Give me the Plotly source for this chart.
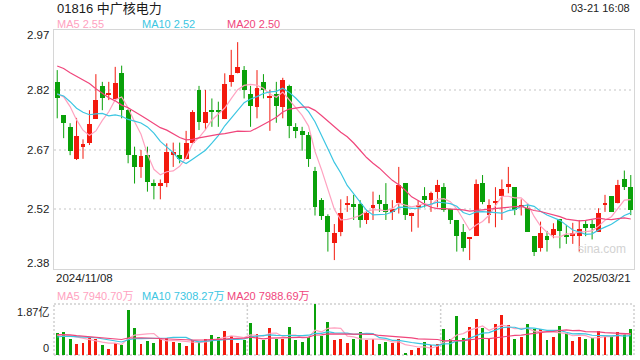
import plotly.graph_objects as go
import pandas as pd

# ---------------- data ----------------
HOLIDAYS = {"2024-12-25", "2024-12-26", "2025-01-01", "2025-01-29", "2025-01-30", "2025-01-31"}
dates = [d.strftime("%Y/%m/%d") for d in pd.bdate_range("2024-11-08", "2025-03-21")
         if d.strftime("%Y-%m-%d") not in HOLIDAYS]

opens = [2.837, 2.755, 2.725, 2.647, 2.677, 2.687, 2.746, 2.827, 2.806, 2.795,
         2.858, 2.767, 2.656, 2.627, 2.656, 2.588, 2.580, 2.588, 2.656, 2.656,
         2.646, 2.687, 2.817, 2.735, 2.765, 2.765, 2.745, 2.837, 2.858, 2.866,
         2.807, 2.776, 2.837, 2.796, 2.807, 2.776, 2.827, 2.725, 2.716, 2.706,
         2.618, 2.545, 2.506, 2.438, 2.467, 2.535, 2.535, 2.535, 2.496, 2.525,
         2.545, 2.535, 2.516, 2.537, 2.587, 2.507, 2.527, 2.555, 2.545, 2.566,
         2.577, 2.522, 2.496, 2.467, 2.448, 2.457, 2.587, 2.508, 2.537, 2.556,
         2.578, 2.577, 2.529, 2.525, 2.456, 2.427, 2.456, 2.459, 2.498, 2.456,
         2.457, 2.457, 2.486, 2.486, 2.467, 2.535, 2.555, 2.537, 2.596, 2.577]
highs = [2.866, 2.755, 2.735, 2.748, 2.695, 2.767, 2.856, 2.837, 2.837, 2.874,
         2.877, 2.770, 2.677, 2.669, 2.677, 2.596, 2.596, 2.685, 2.687, 2.687,
         2.716, 2.767, 2.827, 2.817, 2.796, 2.788, 2.858, 2.916, 2.935, 2.876,
         2.827, 2.866, 2.856, 2.817, 2.837, 2.847, 2.830, 2.735, 2.726, 2.713,
         2.627, 2.550, 2.510, 2.486, 2.547, 2.555, 2.558, 2.545, 2.521, 2.566,
         2.558, 2.587, 2.545, 2.627, 2.587, 2.514, 2.545, 2.577, 2.566, 2.595,
         2.587, 2.522, 2.496, 2.486, 2.453, 2.596, 2.607, 2.547, 2.577, 2.596,
         2.627, 2.577, 2.547, 2.537, 2.456, 2.492, 2.469, 2.488, 2.498, 2.484,
         2.489, 2.496, 2.496, 2.496, 2.525, 2.558, 2.555, 2.595, 2.618, 2.607]
lows = [2.747, 2.698, 2.656, 2.644, 2.647, 2.681, 2.746, 2.767, 2.792, 2.795,
        2.747, 2.636, 2.586, 2.600, 2.566, 2.547, 2.547, 2.577, 2.627, 2.636,
        2.646, 2.687, 2.718, 2.718, 2.726, 2.726, 2.745, 2.825, 2.858, 2.796,
        2.726, 2.747, 2.796, 2.716, 2.736, 2.747, 2.698, 2.698, 2.667, 2.627,
        2.507, 2.496, 2.418, 2.397, 2.456, 2.516, 2.496, 2.477, 2.486, 2.496,
        2.516, 2.496, 2.496, 2.512, 2.496, 2.467, 2.477, 2.527, 2.516, 2.527,
        2.516, 2.486, 2.418, 2.418, 2.397, 2.457, 2.535, 2.488, 2.478, 2.496,
        2.562, 2.508, 2.507, 2.467, 2.407, 2.418, 2.418, 2.451, 2.426, 2.437,
        2.437, 2.418, 2.456, 2.448, 2.467, 2.516, 2.516, 2.537, 2.570, 2.508]
closes = [2.798, 2.736, 2.667, 2.703, 2.684, 2.733, 2.792, 2.798, 2.809, 2.833,
          2.767, 2.656, 2.627, 2.654, 2.589, 2.580, 2.587, 2.665, 2.665, 2.646,
          2.685, 2.763, 2.739, 2.763, 2.764, 2.764, 2.832, 2.854, 2.874, 2.817,
          2.777, 2.821, 2.817, 2.802, 2.777, 2.842, 2.729, 2.716, 2.706, 2.646,
          2.529, 2.507, 2.467, 2.463, 2.514, 2.536, 2.527, 2.496, 2.514, 2.533,
          2.535, 2.516, 2.522, 2.582, 2.508, 2.514, 2.533, 2.545, 2.562, 2.582,
          2.521, 2.496, 2.457, 2.427, 2.453, 2.585, 2.540, 2.533, 2.543, 2.572,
          2.585, 2.521, 2.533, 2.467, 2.418, 2.465, 2.446, 2.474, 2.469, 2.455,
          2.463, 2.473, 2.477, 2.477, 2.514, 2.536, 2.516, 2.582, 2.578, 2.520]
# volumes in 万 shares
volumes = [8070, 8300, 5700, 3900, 4400, 6100, 5700, 3500, 2100, 4500,
           3500, 16400, 9800, 3900, 5000, 4300, 6400, 6400, 4600, 4300,
           3200, 5600, 4800, 6000, 7200, 6500, 8700, 6800, 4400, 5400,
           11600, 7700, 5400, 9800, 5700, 5700, 10100, 5400, 4600, 6600,
           18700, 7000, 12000, 5400, 5700, 4400, 5700, 8300, 5400, 5700,
           3900, 4600, 4300, 5700, 600, 1700, 2400, 4600, 3500, 3900,
           9400, 5700, 14200, 6100, 10100, 13100, 9800, 6100, 11200, 14500,
           10900, 5700, 6500, 11200, 9400, 9400, 5400, 6500, 10500, 7900,
           5000, 6500, 5700, 6100, 8700, 6800, 6500, 8300, 7900, 9400]
# closes / volumes of the 19 sessions before the visible window (for moving averages)
prior_closes = [2.86, 2.87, 2.88, 2.88, 2.893, 3.05, 3.03, 3.02, 2.99, 2.977,
                2.786, 2.807, 2.863, 2.784, 2.795, 2.771, 2.787, 2.868, 2.811]
prior_volumes = [9000, 7800, 9500, 8200, 7000, 8800, 7600, 9200, 8500, 8400,
                 5500, 6200, 5800, 6600, 5900, 6800, 7500, 6400, 7200]

title_text = "01816 中广核电力"
time_text = "03-21 16:08"
ma_names = ["MA5", "MA10", "MA20"]
ma_windows = [5, 10, 20]
price_ma_labels = ["2.55", "2.52", "2.50"]
volume_ma_labels = ["7940.70万", "7308.27万", "7988.69万"]
price_ticks = [2.965, 2.8175, 2.67, 2.5225, 2.375]
price_tick_labels = ["2.97", "2.82", "2.67", "2.52", "2.38"]
volume_max = 18700
volume_tick_labels = ["1.87亿", "0"]
watermark = "sina.com"

# ---------------- styling ----------------
RED = "#f31a0e"
GREEN = "#0aa10a"
MA_COLORS = ["#ffa2c0", "#3cc6e2", "#f0467c"]
FONT = "Liberation Sans, Arial, Noto Sans CJK SC, sans-serif"
W, H = 640, 360
L, R = 54, 634
MAIN_T, MAIN_B = 30, 269
VOL_T, VOL_B = 304, 355

n = len(closes)
xs = list(range(n))


def moving_avg(series, prior, w):
    full = list(prior) + list(series)
    off = len(prior)
    return [sum(full[off + i - w + 1: off + i + 1]) / w for i in range(n)]


colors = [RED if c >= o else GREEN for o, c in zip(opens, closes)]
min_body = 0.0025
body_base = [min(o, c) for o, c in zip(opens, closes)]
body_h = [max(abs(c - o), min_body) for o, c in zip(opens, closes)]

fig = go.Figure()

# wicks
for col in (RED, GREEN):
    wx, wy = [], []
    for i in xs:
        if colors[i] == col:
            wx += [i, i, None]
            wy += [lows[i], highs[i], None]
    fig.add_trace(go.Scatter(x=wx, y=wy, mode="lines", line=dict(color=col, width=1),
                             hoverinfo="skip", showlegend=False, xaxis="x", yaxis="y"))

# bodies
fig.add_trace(go.Bar(x=xs, y=body_h, base=body_base, width=0.76,
                     marker=dict(color=colors, line=dict(width=0)),
                     showlegend=False, xaxis="x", yaxis="y"))

# price MAs
for w, col in zip(ma_windows, MA_COLORS):
    fig.add_trace(go.Scatter(x=xs, y=moving_avg(closes, prior_closes, w), mode="lines",
                             line=dict(color=col, width=1.2), showlegend=False,
                             hoverinfo="skip", xaxis="x", yaxis="y"))

# volume bars
fig.add_trace(go.Bar(x=xs, y=volumes, width=0.45, marker=dict(color=colors, line=dict(width=0)),
                     showlegend=False, xaxis="x2", yaxis="y2"))
for w, col in zip(ma_windows, MA_COLORS):
    fig.add_trace(go.Scatter(x=xs, y=moving_avg(volumes, prior_volumes, w), mode="lines",
                             line=dict(color=col, width=1.2), showlegend=False,
                             hoverinfo="skip", xaxis="x2", yaxis="y2"))

xdom = [L / W, R / W]
fig.update_layout(
    width=W, height=H, margin=dict(l=0, r=0, t=0, b=0),
    paper_bgcolor="white", plot_bgcolor="white", bargap=0, barmode="overlay",
    font=dict(family=FONT, size=11, color="#333"),
    xaxis=dict(domain=xdom, range=[-0.5, n - 0.5], showticklabels=False, showgrid=False,
               zeroline=False, showline=True, mirror=True, linecolor="#d6d6d6", linewidth=1,
               ticks="", anchor="y"),
    yaxis=dict(domain=[1 - MAIN_B / H, 1 - MAIN_T / H], range=[price_ticks[-1], price_ticks[0]],
               tickvals=price_ticks[1:-1], showticklabels=False, showgrid=True,
               gridcolor="#e2e2e2", gridwidth=1.5, griddash="2px,3px", zeroline=False,
               showline=True, mirror=True, linecolor="#d6d6d6", linewidth=1, ticks="",
               anchor="x"),
    xaxis2=dict(domain=xdom, range=[-0.5, n - 0.5], showticklabels=False, showgrid=False,
                zeroline=False, showline=False, ticks="", anchor="y2"),
    yaxis2=dict(domain=[1 - VOL_B / H, 1 - VOL_T / H], range=[0, volume_max],
                showticklabels=False, showgrid=False, zeroline=False, showline=False,
                ticks="", anchor="x2"),
)

# dotted frame of the volume panel
dot = dict(color="#cfcfcf", width=1.5, dash="2px,2px")
for (x0, y0, x1, y1) in [(0, 1, 1, 1), (0, 0, 1, 0), (0, 0, 0, 1), (1, 0, 1, 1),
                         (1 / 3, 0, 1 / 3, 1), (2 / 3, 0, 2 / 3, 1)]:
    fig.add_shape(type="line", xref="x2 domain", yref="y2 domain",
                  x0=x0, y0=y0, x1=x1, y1=y1, line=dot, layer="below")

ann = []
ann.append(dict(text=title_text, x=55 / W, y=1 - 8 / H, xanchor="left", yanchor="middle",
                font=dict(size=13, color="#1a1a1a")))
ann.append(dict(text=time_text, x=632 / W, y=1 - 8 / H, xanchor="right", yanchor="middle",
                font=dict(size=11, color="#222")))
for k, (nm, val, col) in enumerate(zip(ma_names, price_ma_labels, MA_COLORS)):
    ann.append(dict(text=f"{nm} {val}", x=(55 + 85 * k) / W, y=1 - 24 / H, xanchor="left",
                    yanchor="middle", font=dict(size=11, color=col)))
for k, (nm, val, col) in enumerate(zip(ma_names, volume_ma_labels, MA_COLORS)):
    ann.append(dict(text=f"{nm} {val}", x=(55 + 85 * k) / W, y=1 - 296 / H, xanchor="left",
                    yanchor="middle", font=dict(size=11, color=col)))
for k, (tv, tl) in enumerate(zip(price_ticks, price_tick_labels)):
    shift = -5 if k == 0 else (6 if k == len(price_ticks) - 1 else 0)
    ann.append(dict(text=tl, x=51 / W, xref="paper", y=tv, yref="y", xanchor="right",
                    yanchor="middle", yshift=shift, font=dict(size=11.5, color="#222")))
ann.append(dict(text=volume_tick_labels[0], x=51 / W, y=1 - 312 / H, xanchor="right",
                yanchor="middle", font=dict(size=11, color="#222")))
ann.append(dict(text=volume_tick_labels[1], x=51 / W, y=1 - 348 / H, xanchor="right",
                yanchor="middle", font=dict(size=11, color="#222")))
ann.append(dict(text=dates[0], x=54 / W, y=1 - 278 / H, xanchor="left", yanchor="middle",
                font=dict(size=11.5, color="#222")))
ann.append(dict(text=dates[-1], x=633 / W, y=1 - 278 / H, xanchor="right", yanchor="middle",
                font=dict(size=11.5, color="#222")))
ann.append(dict(text=watermark, x=602 / W, y=1 - 249 / H, xanchor="center", yanchor="middle",
                font=dict(size=12, color="#d2d2d2")))
for a in ann:
    a.setdefault("xref", "paper")
    a.setdefault("yref", "paper")
    a["showarrow"] = False
fig.update_layout(annotations=ann)

fig.write_html("out.html")
